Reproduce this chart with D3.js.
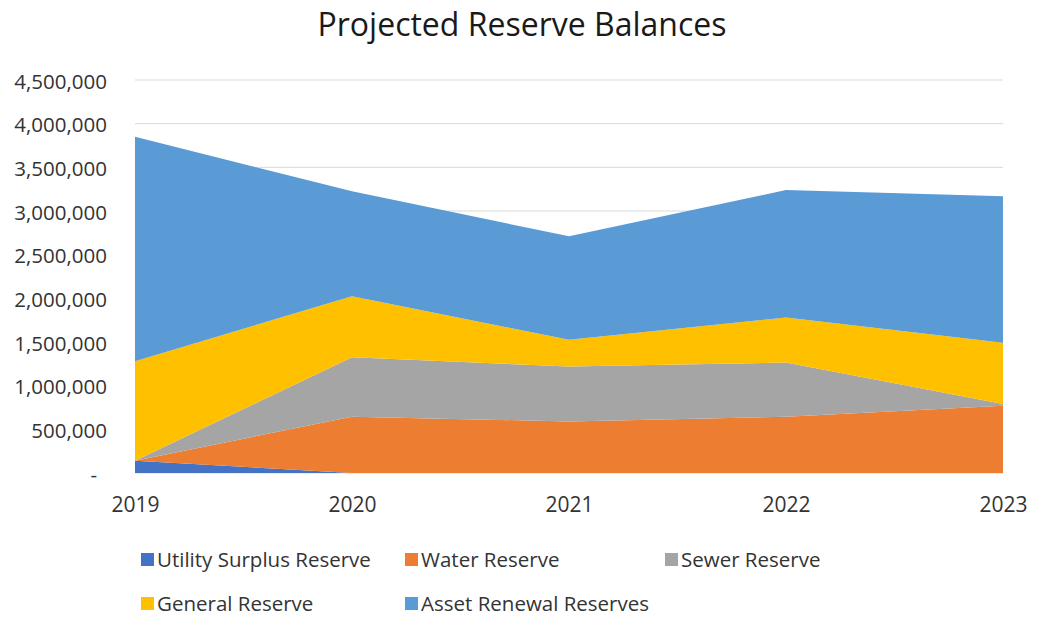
<!DOCTYPE html>
<html>
<head>
<meta charset="utf-8">
<script src="https://cdn.jsdelivr.net/npm/d3@7"></script>
<style>
  body { margin: 0; background: #fff; }
  svg { font-family: "Open Sans", "Noto Sans", sans-serif; }
</style>
</head>
<body>
<svg id="chart" width="1046" height="634"></svg>
<script>
const width = 1046;
const height = 634;
const margin = { top: 80, right: 43, bottom: 161, left: 135 };

const years = ["2019", "2020", "2021", "2022", "2023"];
const seriesNames = ["Utility Surplus Reserve", "Water Reserve", "Sewer Reserve", "General Reserve", "Asset Renewal Reserves"];
const colors = ["#4472C4", "#ED7D31", "#A5A5A5", "#FFC000", "#5B9BD5"];

const utilitySurplus = [140000, 0, 0, 0, 0];
const waterReserve = [0, 645000, 590000, 645000, 770000];
const sewerReserve = [0, 680000, 630000, 620000, 20000];
const generalReserve = [1140000, 700000, 305000, 515000, 700000];
const assetRenewal = [2570000, 1200000, 1185000, 1460000, 1680000];

const yTicks = [0, 500000, 1000000, 1500000, 2000000, 2500000, 3000000, 3500000, 4000000, 4500000];

const allSeries = [utilitySurplus, waterReserve, sewerReserve, generalReserve, assetRenewal];
const table = years.map((yr, i) => {
  const row = { year: yr };
  seriesNames.forEach((n, j) => row[n] = allSeries[j][i]);
  return row;
});

const svg = d3.select("#chart");

const x = d3.scalePoint()
  .domain(years)
  .range([margin.left, width - margin.right]);

const y = d3.scaleLinear()
  .domain([0, 4500000])
  .range([height - margin.bottom, margin.top]);

// gridlines
svg.append("g")
  .selectAll("line")
  .data(yTicks)
  .join("line")
  .attr("x1", margin.left)
  .attr("x2", width - margin.right)
  .attr("y1", d => y(d))
  .attr("y2", d => y(d))
  .attr("stroke", "#d9d9d9")
  .attr("stroke-width", 1);

const stack = d3.stack().keys(seriesNames);
const stacked = stack(table);

const area = d3.area()
  .x(d => x(d.data.year))
  .y0(d => y(d[0]))
  .y1(d => y(d[1]));

svg.append("g")
  .selectAll("path")
  .data(stacked)
  .join("path")
  .attr("fill", (d, i) => colors[i])
  .attr("d", area);

// y axis labels
const fmt = d3.format(",");
const yAxis = svg.append("g")
  .attr("transform", `translate(107,0)`)
  .call(d3.axisLeft(y).tickValues(yTicks).tickSize(0).tickPadding(0).tickFormat(d => d === 0 ? "-" : fmt(d)));
yAxis.select(".domain").remove();
yAxis.selectAll("text")
  .attr("font-size", 20.5)
  .attr("fill", "#333")
  .attr("font-family", "Open Sans, sans-serif")
  .attr("dy", "0.4em")
  .attr("dx", d => d === 0 ? -10 : 0);

// x axis labels
const xAxis = svg.append("g")
  .attr("transform", `translate(0,${height - margin.bottom})`)
  .call(d3.axisBottom(x).tickSize(0).tickPadding(24));
xAxis.select(".domain").remove();
xAxis.selectAll("text")
  .attr("font-size", 21)
  .attr("fill", "#333")
  .attr("font-family", "Open Sans, sans-serif");

// title
svg.append("text")
  .attr("x", 522)
  .attr("y", 36)
  .attr("text-anchor", "middle")
  .attr("font-size", 32)
  .attr("fill", "#1a1a1a")
  .text("Projected Reserve Balances");

// legend
const legendPos = [
  { x: 141, y: 560 },
  { x: 405, y: 560 },
  { x: 665, y: 560 },
  { x: 141, y: 604 },
  { x: 405, y: 604 }
];

const legend = svg.append("g")
  .selectAll("g")
  .data(seriesNames)
  .join("g")
  .attr("transform", (d, i) => `translate(${legendPos[i].x},${legendPos[i].y})`);

legend.append("rect")
  .attr("x", 0)
  .attr("y", -7)
  .attr("width", 13)
  .attr("height", 13)
  .attr("fill", (d, i) => colors[i]);

legend.append("text")
  .attr("x", 16)
  .attr("y", 0)
  .attr("dy", "0.35em")
  .attr("font-size", 20.5)
  .attr("fill", "#333")
  .text(d => d);
</script>
</body>
</html>
